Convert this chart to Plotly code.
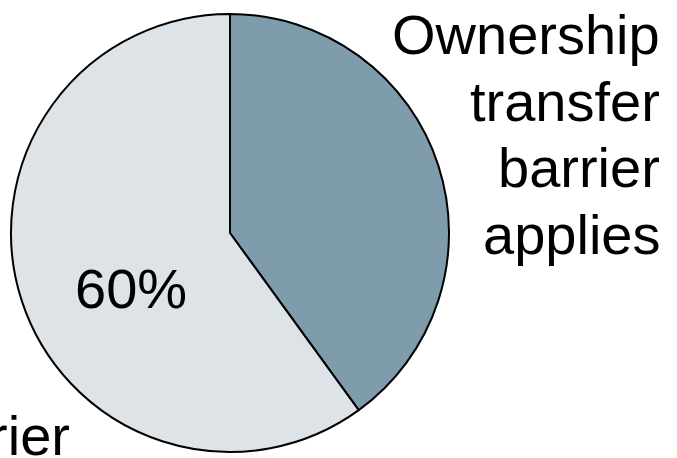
import plotly.graph_objects as go

W, H = 677, 458

# Share of cases by whether the ownership transfer barrier applies
categories = ["Ownership transfer barrier applies", "No barrier"]
shares = [40, 60]
slice_colors = ["#7F9CAD", "#DEE3E8"]

# Outside label lines
applies_lines = ["Ownership", "transfer", "barrier", "applies"]
other_label = "No barrier"

FONT = "Liberation Sans, Arial, sans-serif"
FS = 56


def py(px):
    """Convert a pixel row (from the top) to paper y."""
    return 1 - px / H


fig = go.Figure(
    go.Pie(
        labels=categories,
        values=shares,
        sort=False,
        direction="clockwise",
        rotation=0,
        marker=dict(colors=slice_colors, line=dict(color="black", width=2)),
        textinfo="none",
        hoverinfo="label+percent",
        showlegend=False,
        domain=dict(x=[11 / W, 449 / W], y=[py(452), py(14)]),
    )
)

annotations = []
# Right-aligned stacked label beside the dark slice
for i, line in enumerate(applies_lines):
    baseline = 55 + i * 66.7
    annotations.append(
        dict(
            text=line,
            xref="paper", yref="paper",
            x=662 / W, y=py(baseline + 0.23 * FS),
            xanchor="right", yanchor="bottom",
            showarrow=False,
            font=dict(family=FONT, size=FS, color="black"),
        )
    )
# Percentage inside the light slice
annotations.append(
    dict(
        text=f"{shares[1]}%",
        xref="paper", yref="paper",
        x=131 / W, y=py(288),
        xanchor="center", yanchor="middle",
        showarrow=False,
        font=dict(family=FONT, size=FS, color="black"),
    )
)
# Label for the light slice, running off the lower-left edge
annotations.append(
    dict(
        text=other_label,
        xref="paper", yref="paper",
        x=72 / W, y=py(456 + 0.23 * FS),
        xanchor="right", yanchor="bottom",
        showarrow=False,
        font=dict(family=FONT, size=FS, color="black"),
    )
)

fig.update_layout(
    width=W, height=H,
    margin=dict(l=0, r=0, t=0, b=0),
    paper_bgcolor="white",
    plot_bgcolor="white",
    annotations=annotations,
)

fig.write_html("out.html")
